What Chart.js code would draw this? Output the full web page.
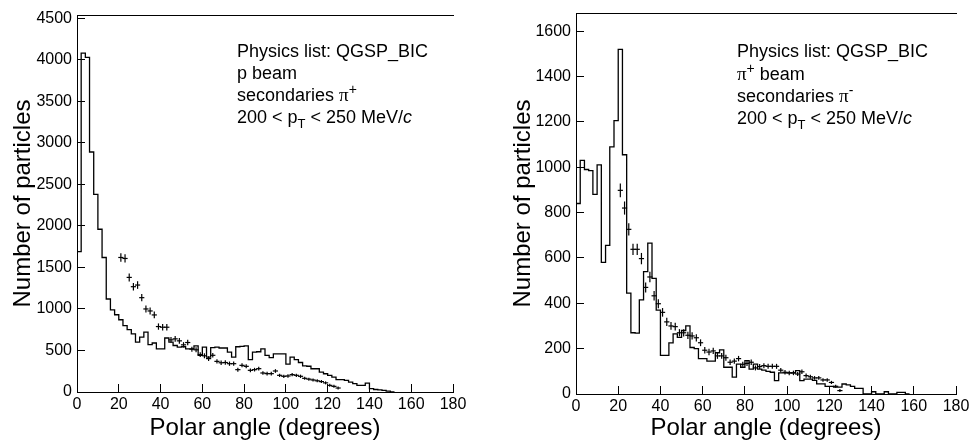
<!DOCTYPE html>
<html><head><meta charset="utf-8">
<script src="https://cdn.jsdelivr.net/npm/chart.js@4.4.1/dist/chart.umd.min.js"></script>
<style>
html,body{margin:0;padding:0;background:#fff;width:971px;height:440px;overflow:hidden}
.wrap{position:absolute;top:0;height:440px}
#wrapL{left:0;width:485px}
#wrapR{left:485px;width:486px}
.leg{position:absolute;font-family:"Liberation Sans",Arial,sans-serif;font-size:18px;line-height:21.7px;color:#000;white-space:nowrap}
.leg sup{font-size:14px;line-height:0;vertical-align:7px}
.leg sub{font-size:13px;line-height:0;vertical-align:-5px}
.pi{font-family:"Liberation Serif","DejaVu Serif",serif;font-size:19px}
</style></head>
<body>
<div id="wrapL" class="wrap"><canvas id="cL" width="485" height="440"></canvas></div>
<div id="wrapR" class="wrap"><canvas id="cR" width="486" height="440"></canvas></div>
<div class="leg" style="left:237px;top:41px">Physics list: QGSP_BIC<br>p beam<br>secondaries <span class="pi">π</span><sup>+</sup><br>200 &lt; p<sub>T</sub> &lt; 250 MeV/<i>c</i></div>
<div class="leg" style="left:737px;top:41px">Physics list: QGSP_BIC<br><span class="pi">π</span><sup>+</sup> beam<br>secondaries <span class="pi">π</span><sup>-</sup><br>200 &lt; p<sub>T</sub> &lt; 250 MeV/<i>c</i></div>
<script>
// ---------- DATA ----------
// Left panel: p beam, secondaries pi+ (histogram = simulation, 2-degree bins)
const leftBinLow = [0,2,4,6,8,10,12,14,16,18,20,22,24,26,28,30,32,34,36,38,40,42,44,46,48,50,52,54,56,58,60,62,64,66,68,70,72,74,76,78,80,82,84,86,88,90,92,94,96,98,100,102,104,106,108,110,112,114,116,118,120,122,124,126,128,130,132,134,136,138,140,142,144,146,148,150];
const leftBinLast = 152;
const leftCounts = [80,1690,4080,4030,2890,2380,1960,1620,1120,990,
  930,870,800,750,700,600,660,720,570,590,
  520,520,650,600,560,540,545,520,520,555,
  440,540,420,535,540,530,530,480,420,545,
  550,555,390,480,485,520,440,415,460,460,
  460,335,420,390,355,315,310,280,280,240,
  220,200,180,150,150,140,120,100,80,80,
  108,40,30,25,20,10];
// Left panel: data points
const leftPtAngle = [21,23,25,27,29,31,33,35,37,39,41,43,45,47,49,51,53,55,57,59,61,63,65,67,69,71,73,75,77,79,81,83,85,87,89,91,93,95,97,99,101,103,105,107,109,111,113,115,117,119,121,123,125];
const leftPtValue = [1620,1608,1380,1268,1288,1136,1000,976,928,788,780,780,628,640,616,568,596,516,508,450,436,402,442,369,352,355,341,341,269,321,309,261,269,281,229,221,221,253,201,189,193,209,201,189,165,155,145,135,125,110,80,68,48];
const leftPtErr = [50,50,48,46,46,44,42,42,40,38,38,38,34,34,34,32,32,30,30,30,30,28,28,26,26,26,26,26,24,24,24,22,22,22,22,22,22,22,20,20,20,20,20,20,18,18,18,16,16,16,14,12,10];

// Right panel: pi+ beam, secondaries pi-
const rightBinLow = [0,2,4,6,8,10,12,14,16,18,20,22,24,26,28,30,32,34,36,38,40,42,44,46,48,50,52,54,56,58,60,62,64,66,68,70,72,74,76,78,80,82,84,86,88,90,92,94,96,98,100,102,104,106,108,110,112,114,116,118,120,122,124,126,128,130,132,134,136,138,140,142,144,146,148,150,152,154,156];
const rightBinLast = 158;
const rightCounts = [100,840,1030,990,985,880,1010,580,655,1090,
  1205,1520,1055,445,270,268,415,540,665,510,
  370,170,170,225,265,250,280,300,205,200,
  156,156,145,145,182,195,118,118,74,132,
  118,147,110,132,110,105,100,96,59,93,
  93,93,93,103,59,66,66,60,45,45,
  34,34,30,30,44,40,34,25,25,0,
  0,10,0,0,10,0,0,7,7];
const rightPtAngle = [21,23,25,27,29,31,33,35,37,39,41,43,45,47,49,51,53,55,57,59,61,63,65,67,69,71,73,75,77,79,81,83,85,87,89,91,93,95,97,99,101,103,105,107,109,111,113,115,117,119,121,123,125];
const rightPtValue = [898,820,726,638,638,597,470,516,433,398,360,318,300,297,270,270,259,256,248,226,193,185,190,168,168,160,140,145,156,131,135,140,115,121,125,122,122,122,105,96,93,93,88,98,81,76,71,71,62,62,51,34,15];
const rightPtErr = [30,29,27,25,25,25,22,23,21,20,19,18,17,17,16,16,16,16,16,15,14,14,14,13,13,13,12,12,12,11,11,12,11,11,11,11,11,11,10,10,10,10,9,10,9,9,8,8,8,8,7,6,4];

// Tick labels
const xTicks = [0,20,40,60,80,100,120,140,160,180];
const leftYTicks = [0,500,1000,1500,2000,2500,3000,3500,4000,4500];
const rightYTicks = [0,200,400,600,800,1000,1200,1400,1600];
const xMin = 0, xMax = 180;
const leftYMax = 4540, rightYMax = 1680;
const xTitle = 'Polar angle (degrees)';
const yTitle = 'Number of particles';

// ---------- CHARTS ----------
Chart.defaults.font.family = '"Liberation Sans", Arial, Helvetica, sans-serif';
Chart.defaults.color = '#000';

function histData(lows, counts, last) {
  const d = lows.map((x, i) => ({x: x, y: counts[i]}));
  d.push({x: last, y: 0});
  return d;
}
function ptData(ang, val) { return ang.map((x, i) => ({x: x, y: val[i]})); }
const setTicks = (vals) => (s) => { s.ticks = vals.map(v => ({value: v})); };

function makeChart(id, cfg) {
  const pts = ptData(cfg.ptAngle, cfg.ptValue);
  const errs = cfg.ptErr;
  return new Chart(document.getElementById(id), {
    type: 'scatter',
    data: {
      datasets: [
        {data: histData(cfg.binLow, cfg.counts, cfg.binLast), showLine: true, stepped: 'after',
         borderColor: '#000', borderWidth: 1.3, pointRadius: 0, fill: false, order: 2},
        {data: pts, showLine: false, pointStyle: 'line', pointRadius: 2.6, pointBorderColor: '#000',
         pointBorderWidth: 1.2, pointBackgroundColor: '#000', order: 1},
        {data: pts, showLine: false, pointStyle: 'line', rotation: 90, pointBorderColor: '#000',
         pointBorderWidth: 1.2, pointBackgroundColor: '#000', order: 1,
         pointRadius: (c) => {
           const ys = c.chart.scales.y;
           if (!ys || !c.raw) return 3;
           const v = c.raw.y, e = errs[c.dataIndex];
           return Math.max(1.5, Math.abs(ys.getPixelForValue(v - e) - ys.getPixelForValue(v + e)) / 2);
         }}
      ]
    },
    options: {
      responsive: false, animation: false, devicePixelRatio: 1,
      events: [],
      layout: {padding: {top: cfg.top, right: cfg.right, left: 0, bottom: 0}},
      plugins: {legend: {display: false}, tooltip: {enabled: false}},
      scales: {
        x: {type: 'linear', position: 'bottom', min: xMin, max: xMax,
            afterBuildTicks: setTicks(xTicks),
            ticks: {padding: 11, font: {size: 16}, color: '#000', maxRotation: 0, autoSkip: false,
                    callback: (v) => String(v)},
            grid: {drawOnChartArea: false, tickLength: -8, color: '#000', lineWidth: 1},
            border: {display: true, color: '#000', width: 1},
            title: {display: true, text: xTitle, font: {size: 24, lineHeight: 1}, padding: {top: 0, bottom: 0}, color: '#000'},
            afterFit: (s) => { s.height = cfg.xh; s.paddingLeft = 0; s.paddingRight = 0; }},
        xtop: {type: 'linear', position: 'top', min: xMin, max: xMax,
            ticks: {display: false}, grid: {display: false, drawTicks: false},
            border: {display: true, color: '#000', width: 1},
            afterFit: (s) => { s.height = 0; s.paddingLeft = 0; s.paddingRight = 0; }},
        y: {type: 'linear', position: 'left', min: 0, max: cfg.yMax,
            afterBuildTicks: setTicks(cfg.yTicks),
            ticks: {padding: 13, font: {size: 16}, color: '#000', autoSkip: false,
                    callback: (v) => String(v)},
            grid: {drawOnChartArea: false, tickLength: -8, color: '#000', lineWidth: 1},
            border: {display: true, color: '#000', width: 1},
            title: {display: true, text: yTitle, font: {size: 24, lineHeight: 1}, padding: {top: cfg.ytp, bottom: 0}, color: '#000'},
            afterFit: (s) => { s.width = cfg.yw; s.paddingTop = 0; s.paddingBottom = 0; }}
      }
    }
  });
}

makeChart('cL', {binLow: leftBinLow, counts: leftCounts, binLast: leftBinLast,
  ptAngle: leftPtAngle, ptValue: leftPtValue, ptErr: leftPtErr,
  yMax: leftYMax, yTicks: leftYTicks, top: 15, right: 32, xh: 48, yw: 77, ytp: 11});
makeChart('cR', {binLow: rightBinLow, counts: rightCounts, binLast: rightBinLast,
  ptAngle: rightPtAngle, ptValue: rightPtValue, ptErr: rightPtErr,
  yMax: rightYMax, yTicks: rightYTicks, top: 13, right: 15, xh: 46, yw: 91, ytp: 26});
</script>
</body></html>
